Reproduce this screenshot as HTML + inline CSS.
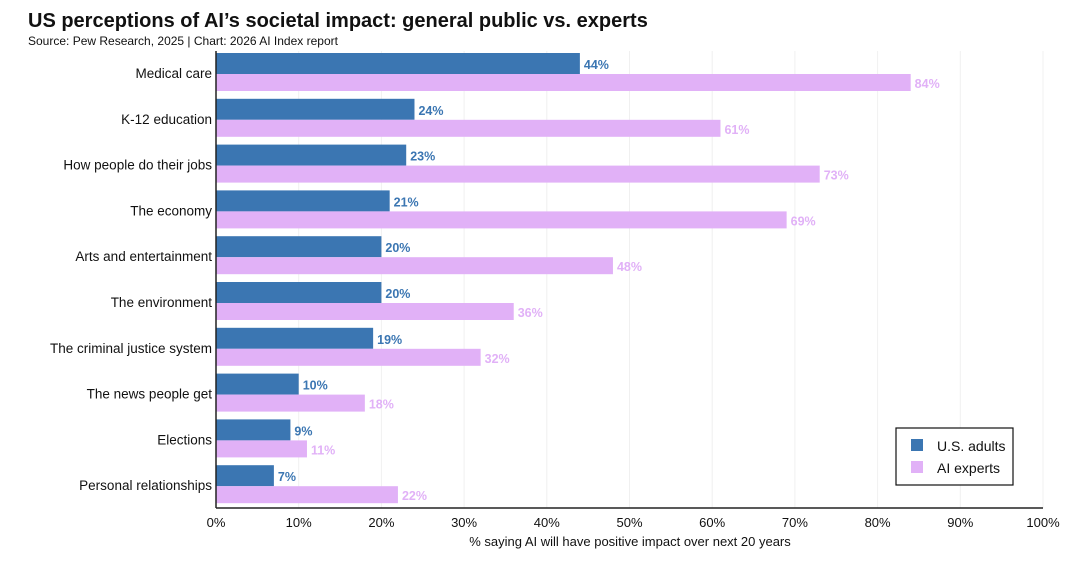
<!DOCTYPE html>
<html><head><meta charset="utf-8"><style>
body{margin:0;background:#fff;font-family:"Liberation Sans",sans-serif;}
</style></head><body>
<svg width="1080" height="562" xmlns="http://www.w3.org/2000/svg" id="chart">
<text x="28" y="27" font-size="20" font-weight="bold" fill="#111">US perceptions of AI’s societal impact: general public vs. experts</text>
<text x="28" y="45" font-size="12" fill="#111">Source: Pew Research, 2025 | Chart: 2026 AI Index report</text>
<g id="grid"></g><g id="bars"></g><g id="labels"></g>
<line x1="216" y1="51" x2="216" y2="508" stroke="#222" stroke-width="1.5"/>
<line x1="216" y1="508" x2="1043" y2="508" stroke="#222" stroke-width="1.5"/>
<text x="630" y="546" font-size="13" text-anchor="middle" fill="#111">% saying AI will have positive impact over next 20 years</text>
<g>
<rect x="896" y="428" width="117" height="57" fill="#fff" stroke="#111" stroke-width="1.2"/>
<rect x="911" y="439" width="12" height="12" fill="#3b76b2"/>
<text x="937" y="451" font-size="14" fill="#111">U.S. adults</text>
<rect x="911" y="461" width="12" height="12" fill="#e1b1f7"/>
<text x="937" y="473" font-size="14" fill="#111">AI experts</text>
</g>
</svg>
<script>
const categories=["Medical care","K-12 education","How people do their jobs","The economy","Arts and entertainment","The environment","The criminal justice system","The news people get","Elections","Personal relationships"];
const usAdults=[44,24,23,21,20,20,19,10,9,7];
const aiExperts=[84,61,73,69,48,36,32,18,11,22];
const ticks=[0,10,20,30,40,50,60,70,80,90,100];
const NS="http://www.w3.org/2000/svg";
const x=v=>216+v*8.27;
const rowTop=i=>53+i*45.8;
function mk(tag,attrs,parent,txt){const e=document.createElementNS(NS,tag);for(const k in attrs)e.setAttribute(k,attrs[k]);if(txt!==undefined)e.textContent=txt;document.getElementById(parent).appendChild(e);return e;}
ticks.forEach(t=>{
 if(t>0){const g=mk('line',{x1:x(t),x2:x(t),y1:51,y2:508,stroke:'#f0f0f0','stroke-width':1},'grid');
 
 }
 const l=mk('text',{x:x(t),y:527,'font-size':13,'text-anchor':'middle',fill:'#111'},'labels',t+'%');
 
 
});
categories.forEach((c,i)=>{
 const y=rowTop(i);
 const cl=mk('text',{x:212,y:y+25,'font-size':13.5,'text-anchor':'end',fill:'#111'},'labels',c);
 
 
 const b=mk('rect',{x:216,y:y,width:x(usAdults[i])-216,height:21,fill:'#3b76b2'},'bars');
 
 
 const p=mk('rect',{x:216,y:y+21,width:x(aiExperts[i])-216,height:17,fill:'#e1b1f7'},'bars');
 
 
 const bl=mk('text',{x:x(usAdults[i])+4,y:y+16,'font-size':12.5,'font-weight':'bold',fill:'#3b76b2'},'labels',usAdults[i]+'%');
 
 
 const pl=mk('text',{x:x(aiExperts[i])+4,y:y+35,'font-size':12.5,'font-weight':'bold',fill:'#e1b1f7'},'labels',aiExperts[i]+'%');
 
 
});
</script>
</body></html>
